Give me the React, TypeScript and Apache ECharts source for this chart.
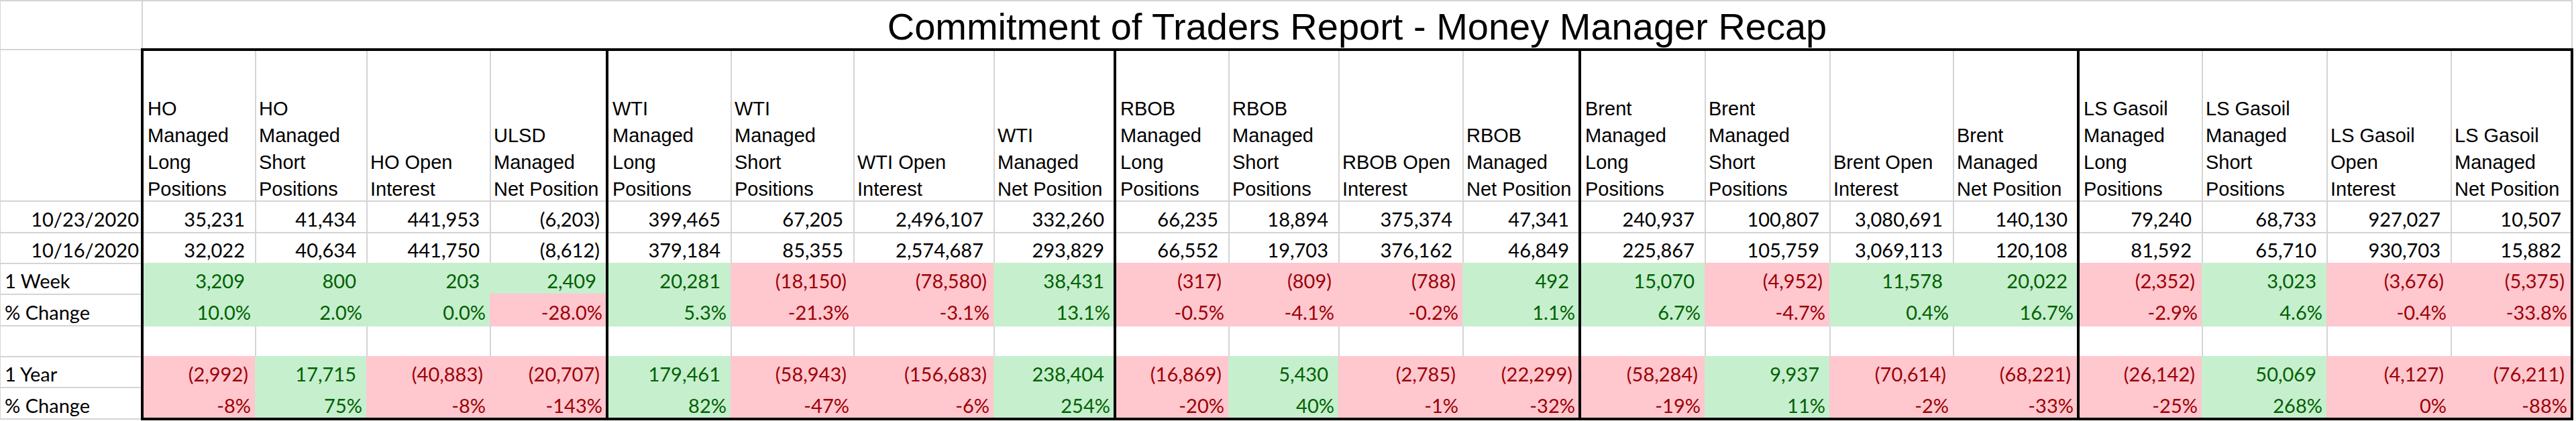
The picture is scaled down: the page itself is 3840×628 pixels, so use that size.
import React, { useEffect, useRef } from "react";
import * as echarts from "echarts";

// ---------------- data ----------------
const TITLE = "Commitment of Traders Report - Money Manager Recap";
const commodities = ["HO", "WTI", "RBOB", "Brent", "LS Gasoil"];
const headers = [
  "HO\nManaged\nLong\nPositions", "HO\nManaged\nShort\nPositions", "HO Open\nInterest", "ULSD\nManaged\nNet Position",
  "WTI\nManaged\nLong\nPositions", "WTI\nManaged\nShort\nPositions", "WTI Open\nInterest", "WTI\nManaged\nNet Position",
  "RBOB\nManaged\nLong\nPositions", "RBOB\nManaged\nShort\nPositions", "RBOB Open\nInterest", "RBOB\nManaged\nNet Position",
  "Brent\nManaged\nLong\nPositions", "Brent\nManaged\nShort\nPositions", "Brent Open\nInterest", "Brent\nManaged\nNet Position",
  "LS Gasoil\nManaged\nLong\nPositions", "LS Gasoil\nManaged\nShort\nPositions", "LS Gasoil\nOpen\nInterest", "LS Gasoil\nManaged\nNet Position",
];
const rowLabels = ["10/23/2020", "10/16/2020", "1 Week", "% Change", "", "1 Year", "% Change"];

const current = [35231, 41434, 441953, -6203, 399465, 67205, 2496107, 332260, 66235, 18894, 375374, 47341, 240937, 100807, 3080691, 140130, 79240, 68733, 927027, 10507];
const previous = [32022, 40634, 441750, -8612, 379184, 85355, 2574687, 293829, 66552, 19703, 376162, 46849, 225867, 105759, 3069113, 120108, 81592, 65710, 930703, 15882];
const weekChange = [3209, 800, 203, 2409, 20281, -18150, -78580, 38431, -317, -809, -788, 492, 15070, -4952, 11578, 20022, -2352, 3023, -3676, -5375];
const weekPct = [10.0, 2.0, 0.0, -28.0, 5.3, -21.3, -3.1, 13.1, -0.5, -4.1, -0.2, 1.1, 6.7, -4.7, 0.4, 16.7, -2.9, 4.6, -0.4, -33.8];
const yearChange = [-2992, 17715, -40883, -20707, 179461, -58943, -156683, 238404, -16869, 5430, -2785, -22299, -58284, 9937, -70614, -68221, -26142, 50069, -4127, -76211];
const yearPct = [-8, 75, -8, -143, 82, -47, -6, 254, -20, 40, -1, -32, -19, 11, -2, -33, -25, 268, -0.4, -88];

// ---------------- layout / style ----------------
const COL_WIDTHS = [212, 169, 166, 184, 174, 185, 183, 209, 180, 170, 164, 185, 174, 187, 186, 184, 186, 185, 186, 185, 180];
const ROW_HEIGHTS = [73, 226, 47, 46, 46, 47, 46, 46, 47];
const TOP = 1;
const W = 3840;
const H = 628;

const COL_EDGES: number[] = [0];
COL_WIDTHS.forEach((w) => COL_EDGES.push(COL_EDGES[COL_EDGES.length - 1] + w));
const ROW_EDGES: number[] = [TOP];
ROW_HEIGHTS.forEach((h) => ROW_EDGES.push(ROW_EDGES[ROW_EDGES.length - 1] + h));

const GRID = "#d4d4d4";
const GREEN_FILL = "#c6efce";
const GREEN_TEXT = "#006100";
const RED_FILL = "#ffc7ce";
const RED_TEXT = "#9c0006";
const HEAD_FONT = "'Liberation Sans', Arial, sans-serif";
const DATA_FONT = "Lato, 'Liberation Sans', sans-serif";

const rowValues: (number[] | null)[] = [current, previous, weekChange, weekPct, null, yearChange, yearPct];
const rowFormat = ["num", "num", "num", "pct1", "", "num", "pct0"];
const rowColored = [false, false, true, true, false, true, true];

const fmtNum = (v: number) => (v < 0 ? `(${Math.abs(v).toLocaleString("en-US")})` : v.toLocaleString("en-US"));
const fmtPct1 = (v: number) => `${v.toFixed(1)}%`;
const fmtPct0 = (v: number) => `${Math.round(v) === 0 ? 0 : Math.round(v)}%`;

type Cell = {
  col: number; row: number; span: number; text: string;
  kind: "title" | "header" | "label" | "date" | "value" | "blank";
  fill: string | null; color: string; pad: number;
};

const cells: Cell[] = [];
cells.push({ col: 0, row: 0, span: 1, text: "", kind: "blank", fill: null, color: "#000", pad: 0 });
cells.push({ col: 1, row: 0, span: 20, text: TITLE, kind: "title", fill: null, color: "#000", pad: 0 });
cells.push({ col: 0, row: 1, span: 1, text: "", kind: "blank", fill: null, color: "#000", pad: 0 });
headers.forEach((h, i) => {
  cells.push({ col: i + 1, row: 1, span: 1, text: h, kind: "header", fill: null, color: "#000", pad: i % 4 === 0 ? 8 : 5 });
});
rowLabels.forEach((lab, r) => {
  cells.push({ col: 0, row: r + 2, span: 1, text: lab, kind: r < 2 ? "date" : "label", fill: null, color: "#000", pad: r < 2 ? 5 : 7 });
  const vals = rowValues[r];
  for (let i = 0; i < headers.length; i++) {
    if (!vals) {
      cells.push({ col: i + 1, row: r + 2, span: 1, text: "", kind: "blank", fill: null, color: "#000", pad: 0 });
      continue;
    }
    const v = vals[i];
    const f = rowFormat[r];
    const text = f === "num" ? fmtNum(v) : f === "pct1" ? fmtPct1(v) : fmtPct0(v);
    const pad = f === "num" ? (v < 0 ? 11 : 16) : 7;
    let fill: string | null = null;
    let color = "#000";
    if (rowColored[r]) {
      fill = v < 0 ? RED_FILL : GREEN_FILL;
      color = v < 0 ? RED_TEXT : GREEN_TEXT;
    }
    cells.push({ col: i + 1, row: r + 2, span: 1, text, kind: "value", fill, color, pad });
  }
});

const renderCell = (params: any, api: any) => {
  const c = cells[params.dataIndex];
  const col = api.value(0);
  const row = api.value(1);
  const span = api.value(2);
  const a = api.coord([COL_EDGES[col], ROW_EDGES[row]]);
  const b = api.coord([COL_EDGES[col + span], ROW_EDGES[row + 1]]);
  const x = a[0];
  const y = a[1];
  const w = b[0] - a[0];
  const h = b[1] - a[1];
  const children: any[] = [];
  if (c.fill) {
    children.push({ type: "rect", z2: 1, shape: { x: x - 1, y: y - 1, width: w + 2, height: h + 2 }, style: { fill: c.fill } });
  } else {
    children.push({ type: "rect", z2: 0, shape: { x, y, width: w, height: h }, style: { fill: "none", stroke: GRID, lineWidth: 2 } });
  }
  if (c.text) {
    let tx = x + w - c.pad;
    let ty = y + h / 2 + 2.5;
    let align = "right";
    let valign = "middle";
    let font = `29px ${DATA_FONT}`;
    let lineHeight = 34;
    if (c.kind === "title") {
      tx = x + w / 2; ty = y + 38; align = "center"; font = `56px ${HEAD_FONT}`; lineHeight = 62;
    } else if (c.kind === "header") {
      tx = x + c.pad; ty = y + h + 2; align = "left"; valign = "bottom"; font = `29px ${HEAD_FONT}`; lineHeight = 40;
    } else if (c.kind === "label") {
      tx = x + c.pad; align = "left";
    }
    children.push({
      type: "text", z2: 2,
      style: {
        text: c.text, x: tx, y: ty, fill: c.color, font, lineHeight,
        align, verticalAlign: valign, textAlign: align, textVerticalAlign: valign,
      },
    });
  }
  return { type: "group", children };
};

const renderBorder = (params: any, api: any) => {
  const g = api.value(0);
  const a = api.coord([COL_EDGES[1 + g * 4], ROW_EDGES[1]]);
  const b = api.coord([COL_EDGES[5 + g * 4], ROW_EDGES[ROW_EDGES.length - 1]]);
  return {
    type: "rect", z2: 10,
    shape: { x: a[0], y: a[1], width: b[0] - a[0], height: b[1] - a[1] },
    style: { fill: "none", stroke: "#000", lineWidth: 4 },
  };
};

const option: any = {
  animation: false,
  backgroundColor: "#ffffff",
  grid: { left: 0, right: 0, top: 0, bottom: 0 },
  xAxis: { type: "value", min: 0, max: W, show: false },
  yAxis: { type: "value", min: 0, max: H, inverse: true, show: false },
  series: [
    {
      type: "custom", z: 2, renderItem: renderCell, clip: false,
      data: cells.map((c) => [c.col, c.row, c.span]),
      silent: true,
    },
    {
      type: "custom", z: 3, renderItem: renderBorder, clip: false,
      data: commodities.map((_, g) => [g]),
      silent: true,
    },
  ],
};

export default function App() {
  const ref = useRef<HTMLDivElement>(null);
  useEffect(() => {
    const chart = echarts.init(ref.current!, null, { renderer: "svg" });
    chart.setOption(option);
    return () => chart.dispose();
  }, []);
  return (
    <div
      ref={ref}
      style={{ position: "fixed", left: 0, top: 0, width: W, height: H, background: "#fff" }}
    />
  );
}
